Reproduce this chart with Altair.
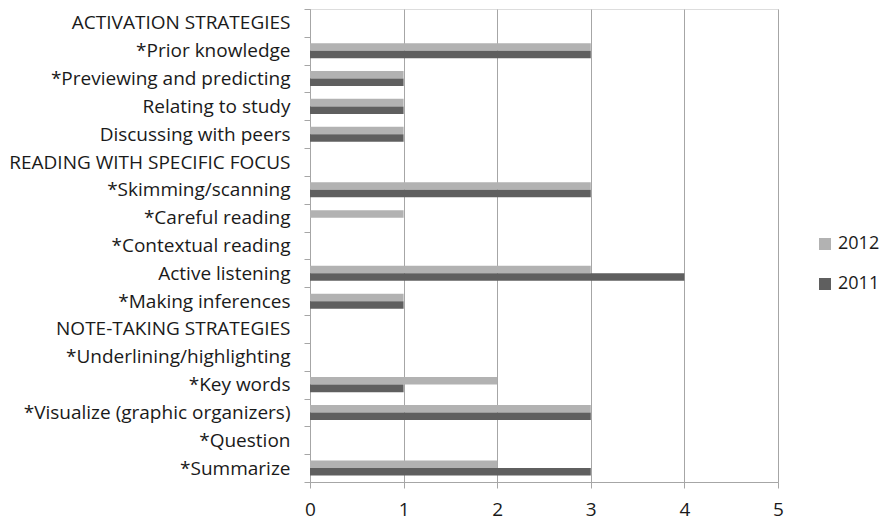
import altair as alt
import pandas as pd

categories = [
    "ACTIVATION STRATEGIES",
    "*Prior knowledge",
    "*Previewing and predicting",
    "Relating to study",
    "Discussing with peers",
    "READING WITH SPECIFIC FOCUS",
    "*Skimming/scanning",
    "*Careful reading",
    "*Contextual reading",
    "Active listening",
    "*Making inferences",
    "NOTE-TAKING STRATEGIES",
    "*Underlining/highlighting",
    "*Key words",
    "*Visualize (graphic organizers)",
    "*Question",
    "*Summarize",
]
values_2012 = [0, 3, 1, 1, 1, 0, 3, 1, 0, 3, 1, 0, 0, 2, 3, 0, 2]
values_2011 = [0, 3, 1, 1, 1, 0, 3, 0, 0, 4, 1, 0, 0, 1, 3, 0, 3]
series = ["2012", "2011"]
colors = ["#b2b2b2", "#5f5f5f"]

rows = []
for c, a, b in zip(categories, values_2012, values_2011):
    rows.append({"category": c, "year": "2012", "value": a})
    rows.append({"category": c, "year": "2011", "value": b})
df = pd.DataFrame(rows)

FONT = "Open Sans"

chart = alt.Chart(df).mark_bar().encode(
    x=alt.X("value:Q",
            scale=alt.Scale(domain=[0, 5], nice=False),
            axis=alt.Axis(title=None, values=[0, 1, 2, 3, 4, 5], format="d",
                          grid=True, gridColor="#a6a6a6", gridWidth=1,
                          domainColor="#a6a6a6", tickColor="#a6a6a6", tickSize=6,
                          labelFontSize=19, labelFont=FONT, labelColor="#1a1a1a",
                          labelPadding=12, labelFlush=False)),
    y=alt.Y("category:N", sort=categories,
            scale=alt.Scale(paddingInner=0, paddingOuter=0),
            axis=alt.Axis(title=None, tickBand="extent", grid=False,
                          domainColor="#a6a6a6",
                          tickColor="#a6a6a6", tickSize=6, labelFontSize=19,
                          labelFont=FONT, labelColor="#1a1a1a", labelPadding=14,
                          labelLimit=400)),
    yOffset=alt.YOffset("year:N", sort=series,
                        scale=alt.Scale(paddingInner=0, paddingOuter=0.85)),
    color=alt.Color("year:N", sort=series,
                    scale=alt.Scale(domain=series, range=colors),
                    legend=alt.Legend(title=None, orient="none", legendX=506, legendY=226,
                                      symbolType="square", symbolSize=144,
                                      symbolStrokeWidth=0,
                                      labelFontSize=18, labelFont=FONT,
                                      labelColor="#1a1a1a", rowPadding=22,
                                      labelOffset=4)),
).properties(
    width=468, height=473,
    autosize=alt.AutoSizeParams(type="none"),
    padding={"left": 310, "top": 9, "right": 102, "bottom": 40},
).configure_view(stroke=None).configure(background="white")

chart.save("out.html", embed_options={"renderer": "svg", "actions": False})
